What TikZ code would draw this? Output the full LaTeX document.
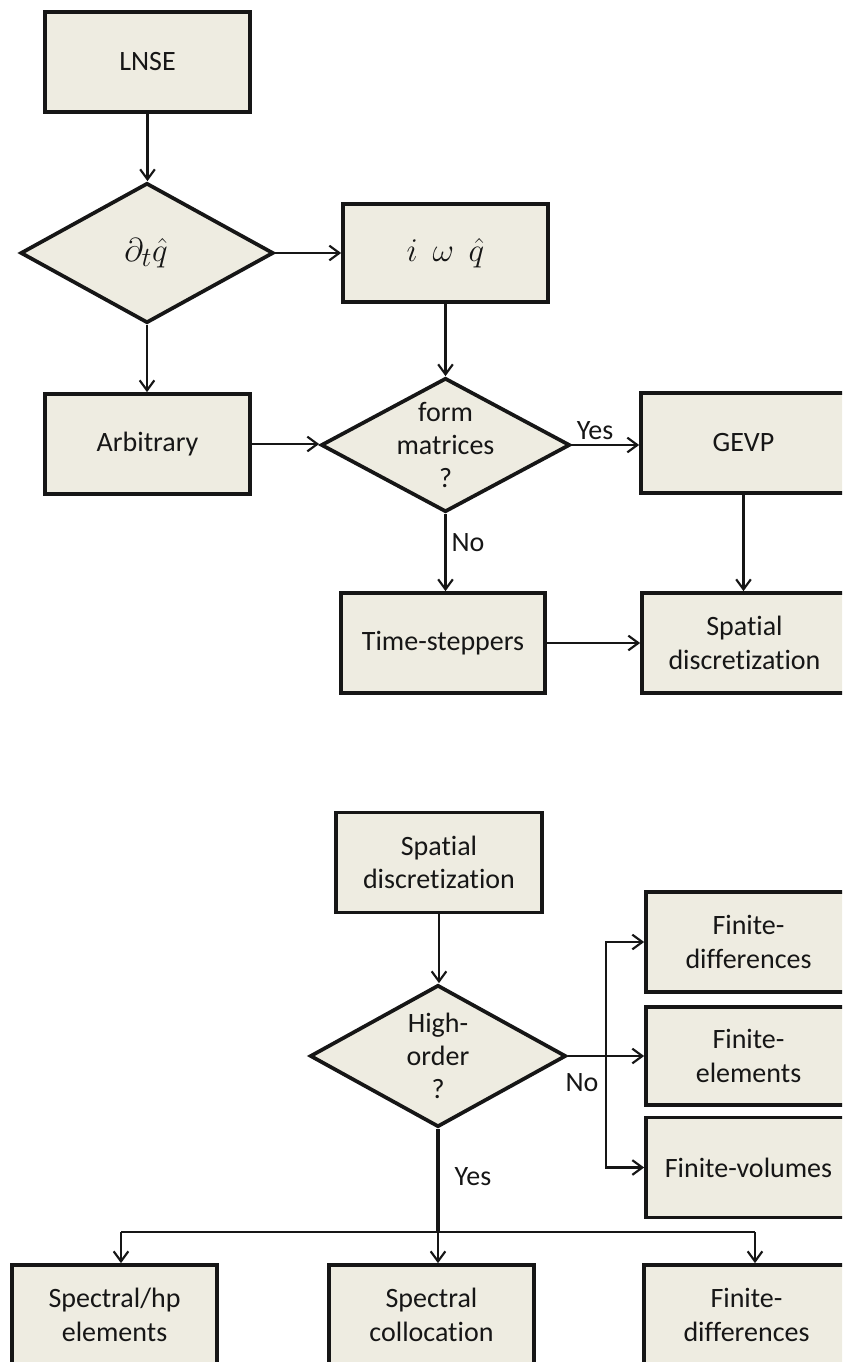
\documentclass[tikz,border=0pt]{standalone}
\usepackage{fontspec}
\setmainfont{Carlito}[Ligatures=NoCommon]
\usetikzlibrary{shapes.geometric,arrows.meta,calc}
\definecolor{boxfill}{RGB}{238,236,225}
\definecolor{ink}{RGB}{22,22,22}
\begin{document}
\begin{tikzpicture}[x=0.75pt,y=-0.75pt,
  box/.style={draw=ink,line width=2.8pt,fill=boxfill,minimum width=153.75pt,minimum height=75pt,inner sep=0pt,align=center,font=\fontsize{21}{25}\selectfont,text=ink},
  dia/.style={diamond,draw=ink,line width=2.8pt,fill=boxfill,inner sep=0pt},
  dtext/.style={align=center,font=\fontsize{21}{25}\selectfont,text=ink,inner sep=0pt},
  conn/.style={draw=ink,line width=1.6pt,-{Straight Barb[length=7.5pt,width=11pt,line width=1.6pt]}},
  plain/.style={draw=ink,line width=1.6pt},
  lab/.style={font=\fontsize{21}{25}\selectfont,text=ink,inner sep=0pt},
  mathfont/.style={font=\fontsize{30}{36}\selectfont},
]
\useasboundingbox (0,0) rectangle (842,1362);
\clip (0,0) rectangle (842,1362);
\fill[white] (0,0) rectangle (842,1362);

% ---- upper chart ----
\node[box] (lnse) at (147.5,62) {LNSE};
\node[dia,minimum width=189.75pt,minimum height=105pt] (d1) at (147,253) {};
\node[dtext,mathfont] (d1t) at (146,253) {$\partial_t\hat{q}$};
\node[box,minimum height=73.5pt,mathfont] (iw) at (445.5,253) {$i\;\,\omega\;\,\hat{q}$};
\node[box] (arb) at (147.5,444) {Arbitrary};
\node[dia,minimum width=186.75pt,minimum height=100.5pt] (d2) at (445.5,445) {};
\node[dtext] (d2t) at (d2) {form\\matrices\\?};
\node[box] (gevp) at (743.5,443) {GEVP};
\node[box,minimum width=153pt] (time) at (443,643) {Time-steppers};
\node[box] (sp1) at (744.5,643) {Spatial\\discretization};
\node[lab] (yes1) at (595,431) {Yes};
\node[lab] (no1) at (468,543) {No};

\draw[conn] (lnse.south) -- (lnse.south |- d1.north);
\draw[conn] (d1.east) -- (d1.east -| iw.west);
\draw[conn] (d1.south) -- (d1.south |- arb.north);
\draw[conn] (iw.south) -- (iw.south |- d2.north);
\draw[conn] (arb.east) -- (arb.east -| d2.west);
\draw[conn] (d2.east) -- (d2.east -| gevp.west);
\draw[conn] (d2.south) -- (d2.south |- time.north);
\draw[conn] (gevp.south) -- (gevp.south |- sp1.north);
\draw[conn] (time.east) -- (time.east -| sp1.west);

% ---- lower chart ----
\node[box,minimum width=154.5pt] (sp2) at (439,862.5) {Spatial\\discretization};
\node[dia,minimum width=192pt,minimum height=106.5pt] (d3) at (438,1056) {};
\node[dtext] (d3t) at (d3) {High-\\order\\?};
\node[box] (fd1) at (748.5,942) {Finite-\\differences};
\node[box,minimum height=73.5pt] (fe) at (748.5,1056) {Finite-\\elements};
\node[box] (fv) at (748.5,1167.5) {Finite-volumes};
\node[box] (b1) at (114.5,1315) {Spectral/hp\\elements};
\node[box] (b2) at (431.5,1315) {Spectral\\collocation};
\node[box] (b3) at (746.5,1315) {Finite-\\differences};
\node[lab] (no2) at (582,1083) {No};
\node[lab] (yes2) at (473,1177) {Yes};

\draw[conn] (sp2.south) -- (sp2.south |- d3.north);
\coordinate (br) at (606,1056);
\draw[conn] (d3.east) -- (d3.east -| fe.west);
\draw[conn] (br) |- (fd1.west);
\draw[conn] (br) |- (fv.west);

\coordinate (sp) at (438,1232);
\coordinate (L) at (121,1232);
\coordinate (R) at (755,1232);
\draw[ink,line width=3.2pt] (d3.south) -- (sp);
\draw[plain] (L) -- (R);
\draw[conn] (L) -- (L |- b1.north);
\draw[conn] (sp) -- (sp |- b2.north);
\draw[conn] (R) -- (R |- b3.north);
\end{tikzpicture}
\end{document}
